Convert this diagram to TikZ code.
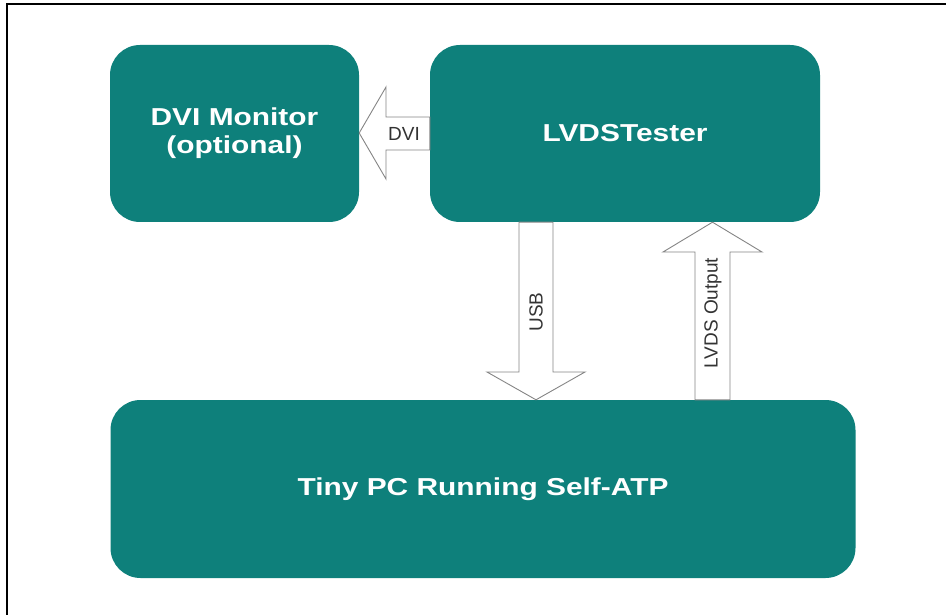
\documentclass[tikz,border=0pt]{standalone}
\usepackage{fontspec}
\setmainfont{Liberation Sans}
\newfontfamily\boxfont[FakeStretch=1.22]{Liberation Sans}
\usetikzlibrary{calc}
\definecolor{teal}{HTML}{0E807B}
\definecolor{arrowline}{HTML}{858585}
\definecolor{labeltext}{HTML}{333333}
\tikzset{
  block/.style={fill=teal, draw=none, rounded corners=30pt, inner sep=0pt,
    text=white, align=center,
    font=\boxfont\bfseries\fontsize{24.5pt}{28pt}\selectfont},
  flow/.style={draw=arrowline, fill=white, line width=0.9pt, line join=miter},
  flowlabel/.style={text=labeltext, inner sep=0pt,
    font=\fontsize{19pt}{21pt}\selectfont},
}
\begin{document}
\begin{tikzpicture}[x=1pt, y=-1pt]
\useasboundingbox (0,0) rectangle (946,615);
% page frame (open on the right and bottom)
\draw[line width=2pt] (946,4) -- (7,4) -- (7,615);

% blocks
\node[block, minimum width=249pt, minimum height=177pt] (mon) at (234.5,133.5)
  {DVI Monitor\\(optional)};
\node[block, minimum width=390pt, minimum height=177pt] (lvds) at (625,133.5)
  {LVDSTester};
\node[block, minimum width=745pt, minimum height=178pt] (pc) at (483,489)
  {Tiny PC Running Self-ATP};

% DVI: tester -> monitor
\draw[flow] (lvds.west |- 0,117) -- (386,117) -- (386,87)
  -- (mon.east |- 0,133) -- (386,179) -- (386,150) -- (lvds.west |- 0,150) -- cycle;
\node[flowlabel] (dvi) at (404,133.5) {DVI};

% USB: tester -> PC
\draw[flow] (519,0 |- lvds.south) -- (519,372) -- (487,372)
  -- (536,0 |- pc.north) -- (585,372) -- (553,372) -- (553,0 |- lvds.south) -- cycle;
\node[flowlabel, rotate=90] (usb) at (536,312) {USB};

% LVDS Output: PC -> tester
\draw[flow] (695,0 |- pc.north) -- (695,252) -- (663,252)
  -- (712.5,0 |- lvds.south) -- (762,252) -- (730,252) -- (730,0 |- pc.north) -- cycle;
\node[flowlabel, rotate=90] (lvdsout) at (713,313) {LVDS Output};
\end{tikzpicture}
\end{document}
